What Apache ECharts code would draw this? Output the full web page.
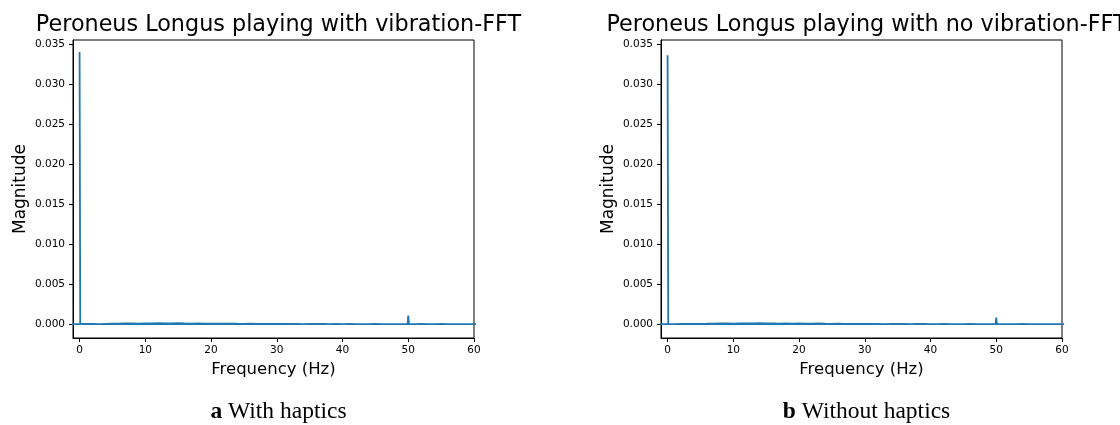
<!DOCTYPE html>
<html>
<head>
<meta charset="utf-8">
<script src="https://cdn.jsdelivr.net/npm/echarts@6/dist/echarts.min.js"></script>
<style>
  html, body { margin: 0; padding: 0; background: #fff; }
  #main { width: 1120px; height: 425px; }
</style>
</head>
<body>
<div id="main"></div>
<script>
// frequency bins (Hz) in FFT order: 0, positive bins, then the negative bins
var freq = [0, 0.1,
  1, 2, 3, 4, 5, 6, 7, 8, 9, 10,
  11, 12, 13, 14, 15, 16, 17, 18, 19, 20,
  21, 22, 23, 24, 25, 26, 27, 28, 29, 30,
  31, 32, 33, 34, 35, 36, 37, 38, 39, 40,
  41, 42, 43, 44, 45, 46, 47, 48, 49,
  49.9, 50, 50.1,
  51, 52, 53, 54, 55, 56, 57, 58, 59, 60, 61,
  -2, -0.1];

// magnitude, with vibration
var magWith = [0.0340, 0.00006,
  0.00005, 0.00006, 0.00004, 0.00007, 0.00008, 0.00009, 0.00011, 0.00012, 0.00010, 0.00013,
  0.00012, 0.00014, 0.00011, 0.00013, 0.00015, 0.00012, 0.00010, 0.00011, 0.00009, 0.00010,
  0.00008, 0.00009, 0.00010, 0.00008, 0.00007, 0.00008, 0.00006, 0.00007, 0.00006, 0.00005,
  0.00006, 0.00005, 0.00006, 0.00004, 0.00005, 0.00006, 0.00005, 0.00004, 0.00005, 0.00004,
  0.00005, 0.00004, 0.00003, 0.00004, 0.00005, 0.00004, 0.00003, 0.00004, 0.00004,
  0.00005, 0.00110, 0.00006,
  0.00004, 0.00005, 0.00003, 0.00004, 0.00005, 0.00004, 0.00003, 0.00004, 0.00003, 0.00004, 0.00003,
  0.00003, 0.00004];

// magnitude, no vibration
var magWithout = [0.0336, 0.00005,
  0.00004, 0.00005, 0.00006, 0.00005, 0.00007, 0.00008, 0.00010, 0.00011, 0.00012, 0.00010,
  0.00013, 0.00011, 0.00012, 0.00014, 0.00012, 0.00011, 0.00010, 0.00012, 0.00009, 0.00011,
  0.00010, 0.00009, 0.00011, 0.00008, 0.00007, 0.00008, 0.00007, 0.00006, 0.00007, 0.00005,
  0.00006, 0.00005, 0.00004, 0.00005, 0.00006, 0.00005, 0.00004, 0.00006, 0.00005, 0.00004,
  0.00004, 0.00005, 0.00004, 0.00003, 0.00004, 0.00005, 0.00004, 0.00003, 0.00004,
  0.00004, 0.00085, 0.00005,
  0.00004, 0.00003, 0.00004, 0.00005, 0.00003, 0.00004, 0.00003, 0.00004, 0.00004, 0.00003, 0.00003,
  0.00003, 0.00004];

var xTicks = [0, 10, 20, 30, 40, 50, 60];
var yTicks = [0, 0.005, 0.010, 0.015, 0.020, 0.025, 0.030, 0.035];

var titles = ['Peroneus Longus playing with vibration-FFT', 'Peroneus Longus playing with no vibration-FFT'];
var captions = ['{b|a} With haptics', '{b|b} Without haptics'];

var font = 'DejaVu Sans';
var blue = '#1f77b4';

var gridLeft = [73, 661];
var gridW = 401;
var centers = [gridLeft[0] + gridW / 2, gridLeft[1] + gridW / 2];

function pairs(xs, ys) {
  var out = [];
  for (var i = 0; i < xs.length; i++) out.push([xs[i], ys[i]]);
  return out;
}

function xAx(i) {
  return {
    type: 'value', gridIndex: i, min: -1, max: 60,
    name: 'Frequency (Hz)', nameLocation: 'middle', nameGap: 22,
    nameTextStyle: { fontFamily: font, fontSize: 16.5, color: '#000' },
    axisLine: { onZero: false, lineStyle: { color: '#000', width: 1 } },
    axisTick: { show: true, length: 4, customValues: xTicks, lineStyle: { color: '#000' } },
    axisLabel: { customValues: xTicks, margin: 7, fontFamily: font, fontSize: 10.5, color: '#000' },
    splitLine: { show: false }
  };
}
function yAx(i) {
  return {
    type: 'value', gridIndex: i, min: -0.0017, max: 0.0355,
    name: 'Magnitude', nameLocation: 'middle', nameRotate: 90, nameGap: 44,
    nameTextStyle: { fontFamily: font, fontSize: 17, color: '#000' },
    axisLine: { onZero: false, lineStyle: { color: '#000', width: 1 } },
    axisTick: { show: true, length: 4, customValues: yTicks, lineStyle: { color: '#000' } },
    axisLabel: {
      customValues: yTicks, margin: 8, fontFamily: font, fontSize: 10.5, color: '#000',
      formatter: function (v) { return v.toFixed(3); }
    },
    splitLine: { show: false }
  };
}

function caption(i) {
  return {
    text: captions[i], left: centers[i], top: 395, textAlign: 'center',
    textStyle: {
      fontFamily: 'Liberation Serif', fontSize: 23.5, fontWeight: 'normal', color: '#000',
      rich: { b: { fontFamily: 'Liberation Serif', fontSize: 23.5, fontWeight: 'bold', color: '#000' } }
    }
  };
}

var chart = echarts.init(document.getElementById('main'), null, { renderer: 'canvas' });
chart.setOption({
  animation: false,
  backgroundColor: '#fff',
  title: [
    { text: titles[0], left: centers[0], top: 9, textAlign: 'center',
      textStyle: { fontFamily: font, fontSize: 22.3, fontWeight: 'normal', color: '#000' } },
    { text: titles[1], left: centers[1], top: 9, textAlign: 'center',
      textStyle: { fontFamily: font, fontSize: 22.3, fontWeight: 'normal', color: '#000' } },
    caption(0),
    caption(1)
  ],
  grid: [
    { left: gridLeft[0], top: 40, width: gridW, height: 298, show: true, borderColor: '#000', borderWidth: 1, backgroundColor: 'transparent' },
    { left: gridLeft[1], top: 40, width: gridW, height: 298, show: true, borderColor: '#000', borderWidth: 1, backgroundColor: 'transparent' }
  ],
  xAxis: [xAx(0), xAx(1)],
  yAxis: [yAx(0), yAx(1)],
  series: [
    { type: 'line', xAxisIndex: 0, yAxisIndex: 0, data: pairs(freq, magWith),
      showSymbol: false, lineStyle: { color: blue, width: 1.8 } },
    { type: 'line', xAxisIndex: 1, yAxisIndex: 1, data: pairs(freq, magWithout),
      showSymbol: false, lineStyle: { color: blue, width: 1.8 } }
  ]
});
</script>
</body>
</html>
